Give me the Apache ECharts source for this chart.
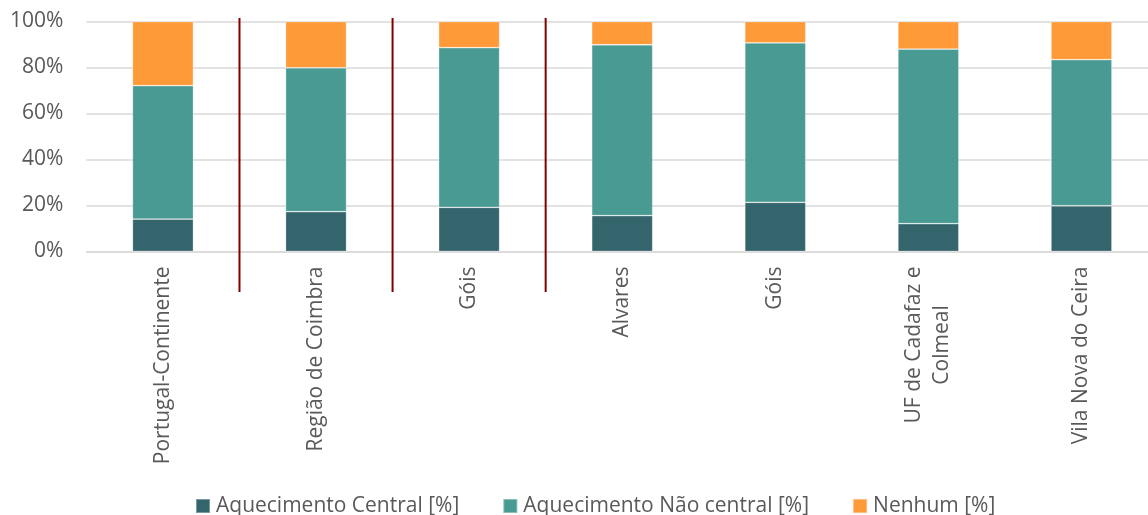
<!DOCTYPE html>
<html>
<head>
<meta charset="utf-8">
<script src="https://cdn.jsdelivr.net/npm/echarts@6/dist/echarts.min.js"></script>
<style>
html,body{margin:0;padding:0;background:#fff;}
#chart{width:1148px;height:515px;}
</style>
</head>
<body>
<div id="chart"></div>
<script>
const categories = ['Portugal-Continente', 'Região de Coimbra', 'Góis', 'Alvares', 'Góis', 'UF de Cadafaz e\nColmeal', 'Vila Nova do Ceira'];
const seriesNames = ['Aquecimento Central [%]', 'Aquecimento Não central [%]', 'Nenhum [%]'];
const central = [14.1, 17.3, 19.2, 15.6, 21.4, 12.1, 19.9];
const naoCentral = [58.0, 62.6, 69.4, 74.3, 69.3, 75.9, 63.5];
const nenhum = [27.9, 20.1, 11.4, 10.1, 9.3, 12.0, 16.6];
const yTicks = [0, 20, 40, 60, 80, 100];
const separators = [1, 2, 3];

const colors = ['#35656c', '#499a93', '#fe9a37'];
const font = '"Open Sans", "Liberation Sans", sans-serif';
const fs = 21;

const chart = echarts.init(document.getElementById('chart'));
const barSeries = [central, naoCentral, nenhum].map((d, i) => ({
  name: seriesNames[i],
  type: 'bar',
  stack: 'total',
  barWidth: 61,
  data: d,
  itemStyle: { color: colors[i], borderColor: 'rgba(255,255,255,0.35)', borderWidth: 0.8 },
  xAxisIndex: 0,
  yAxisIndex: 0,
  z: 2
}));

chart.setOption({
  animation: false,
  textStyle: { fontFamily: font },
  grid: { left: 86.4, right: -10, top: 21.5, bottom: 263.5, containLabel: false, outerBoundsMode: 'none' },
  legend: {
    data: seriesNames,
    top: 494,
    left: 195,
    padding: 0,
    itemWidth: 14,
    itemHeight: 14,
    itemGap: 43,
    icon: 'rect',
    textStyle: { fontFamily: font, fontSize: fs, lineHeight: 24, color: '#595959', padding: [0, 0, 0, 1] }
  },
  xAxis: [{
    type: 'category',
    data: categories,
    axisLine: { show: true, lineStyle: { color: '#d9d9d9', width: 1.5 } },
    axisTick: { show: false },
    axisLabel: {
      rotate: 90,
      margin: 15,
      fontFamily: font,
      fontSize: fs,
      color: '#595959',
      lineHeight: 28,
      interval: 0,
      formatter: function (v) { return v.split('\n').map(s => '{c|' + s + '}').join('\n'); },
      rich: { c: { align: 'center', fontFamily: font, fontSize: fs, color: '#595959', lineHeight: 28 } }
    }
  }, {
    type: 'value',
    min: 0,
    max: categories.length,
    show: false
  }],
  yAxis: {
    type: 'value',
    min: yTicks[0],
    max: yTicks[yTicks.length - 1],
    interval: 20,
    axisLine: { show: false },
    axisTick: { show: false },
    splitLine: { lineStyle: { color: '#d9d9d9', width: 1.5 } },
    axisLabel: { formatter: '{value}%', fontFamily: font, fontSize: fs, color: '#595959', margin: 23 }
  },
  series: barSeries.concat([{
    type: 'custom',
    xAxisIndex: 1,
    yAxisIndex: 0,
    clip: false,
    silent: true,
    z: 5,
    data: separators,
    renderItem: function (params, api) {
      const top = api.coord([api.value(0), 100]);
      const bot = api.coord([api.value(0), 0]);
      return {
        type: 'line',
        shape: { x1: top[0], y1: top[1] - 3.5, x2: bot[0], y2: bot[1] + 40.5 },
        style: { stroke: '#800000', lineWidth: 2 }
      };
    }
  }])
});
</script>
</body>
</html>
